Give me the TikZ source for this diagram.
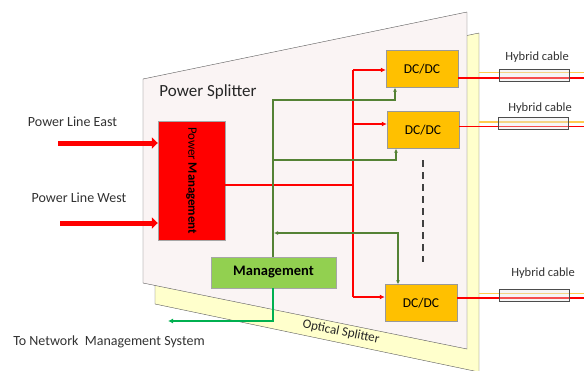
\documentclass[tikz,border=0pt]{standalone}
\usepackage{fontspec}
\setmainfont{Carlito}
\usepackage{xcolor}
\usepackage{tikz}
\usetikzlibrary{arrows.meta, positioning, calc, shapes.geometric}
\definecolor{psfill}{RGB}{250,244,244}
\definecolor{osfill}{RGB}{255,255,204}
\definecolor{dcorange}{RGB}{255,192,0}
\definecolor{mgmtgreen}{RGB}{146,208,80}
\definecolor{ctrlgreen}{RGB}{84,130,53}
\definecolor{nmsgreen}{RGB}{0,176,80}
\definecolor{fibre}{RGB}{255,204,80}
\definecolor{labelgray}{RGB}{50,50,50}
\newcommand{\fs}[1]{\fontsize{#1}{#1}\selectfont}

\begin{document}
\begin{tikzpicture}[x=1pt, y=-1pt, font=\fs{11},
  label/.style={text=labelgray, font=\fs{14}},
  dcbox/.style={draw=gray!80, fill=dcorange, minimum width=72pt, minimum height=37pt, font=\fs{13.5}},
  pline/.style={draw=red, line width=1.5pt},
  parrow/.style={pline, -{Latex[length=5pt, width=5pt]}},
  feed/.style={draw=red, line width=5pt, -{Triangle[length=6pt, width=11pt]}},
  ctrl/.style={draw=ctrlgreen, line width=1.1pt},
  carrow/.style={ctrl, -{Latex[length=4pt, width=4pt]}},
  nms/.style={draw=nmsgreen, line width=1.3pt, -{Latex[length=5pt, width=5pt]}},
  cable/.style={shape=cylinder, shape aspect=0.8, draw=gray!60!black, fill=gray!20, fill opacity=0.35, text opacity=1,
    minimum width=12pt, minimum height=70pt, inner sep=0pt, line width=0.9pt},
  fibreline/.style={draw=fibre, line width=1.2pt},
  redline/.style={draw=red, line width=1.2pt}]
  \useasboundingbox (0,0) rectangle (584,370);
  % ============ splitters ============
  \draw[gray!70!black, fill=osfill] (155,100) -- (479,33) -- (479,372) -- (155,304) -- cycle;
  \draw[gray!70!black, fill=psfill] (143,79) -- (467,12) -- (467,349) -- (143,283) -- cycle;
  \node[font=\fs{17}, text=black!85] (pstitle) at (208,92) {Power Splitter};
  \node[rotate=-11.5, font=\fs{13}, text=black!85] (ostitle) at (341,332) {Optical Splitter};
  % ============ boxes ============
  \node[draw=gray!70, fill=red, minimum width=67pt, minimum height=119pt] (pm) at (191.5,180.5) {};
  \node[rotate=-90, font=\fs{12.8}] at (pm.center) {Power \textbf{Management}};
  \node[draw=gray!70, fill=mgmtgreen, minimum width=125pt, minimum height=31pt, font=\bfseries\fs{14.5}] (mgmt) at (273.5,272.5) {Management};
  \node[dcbox] (dc1) at (422,69) {DC/DC};
  \node[dcbox] (dc2) at (423,130) {DC/DC};
  \node[dcbox] (dc3) at (421,303) {DC/DC};
  \draw[black!75, line width=1.6pt, dash pattern=on 7pt off 5pt] (423,160) -- (423,262);
  % ============ inputs ============
  \node[label] (east) at (72.5,122) {Power Line East};
  \node[label] (west) at (79,198) {Power Line West};
  \draw[feed] (58,143) -- (pm.west |- 0,143);
  \draw[feed] (60,223) -- (pm.west |- 0,223);
  % ============ power bus ============
  \draw[pline] (pm.east |- 0,185) -- (353,185);
  \draw[pline] (353,297) -- (353,70);
  \draw[parrow] (353,70) -- (dc1.west |- 0,70);
  \draw[parrow] (353,124) -- (dc2.west |- 0,124);
  \draw[parrow] (353,297) -- (dc3.west |- 0,297);
  % ============ control lines ============
  \draw[carrow] (mgmt.north -| 273,0) |- (395,100) -- (dc1.south -| 395,0);
  \draw[carrow] (273,160) -- (396,160) -- (dc2.south -| 396,0);
  \draw[ctrl, {Latex[length=4pt, width=4pt]}-{Latex[length=4pt, width=4pt]}] (274,233) -| (dc3.north -| 398,0);
  \draw[nms] (mgmt.south -| 273,0) |- (168,321);
  \node[label] (nmslabel) at (109,342) {To Network\ \ Management System};
  % ============ hybrid cables ============
  \draw[fibreline] (479,72.5) -- (584,72.5);
  \draw[redline] (dc1.east |- 0,78) -- (584,78);
  \node[cable] (cable1) at (534,75) {};
  \node[label, font=\fs{12.5}] at (537,57) {Hybrid cable};
  \draw[fibreline] (479,122) -- (584,122);
  \draw[redline] (dc2.east |- 0,126.5) -- (584,126.5);
  \node[cable] (cable2) at (533,123.5) {};
  \node[label, font=\fs{12.5}] at (540,108) {Hybrid cable};
  \draw[fibreline] (479,293.5) -- (584,293.5);
  \draw[redline] (dc3.east |- 0,298) -- (584,298);
  \node[cable] (cable3) at (534,295.5) {};
  \node[label, font=\fs{12.5}] at (543,273) {Hybrid cable};
\end{tikzpicture}
\end{document}
